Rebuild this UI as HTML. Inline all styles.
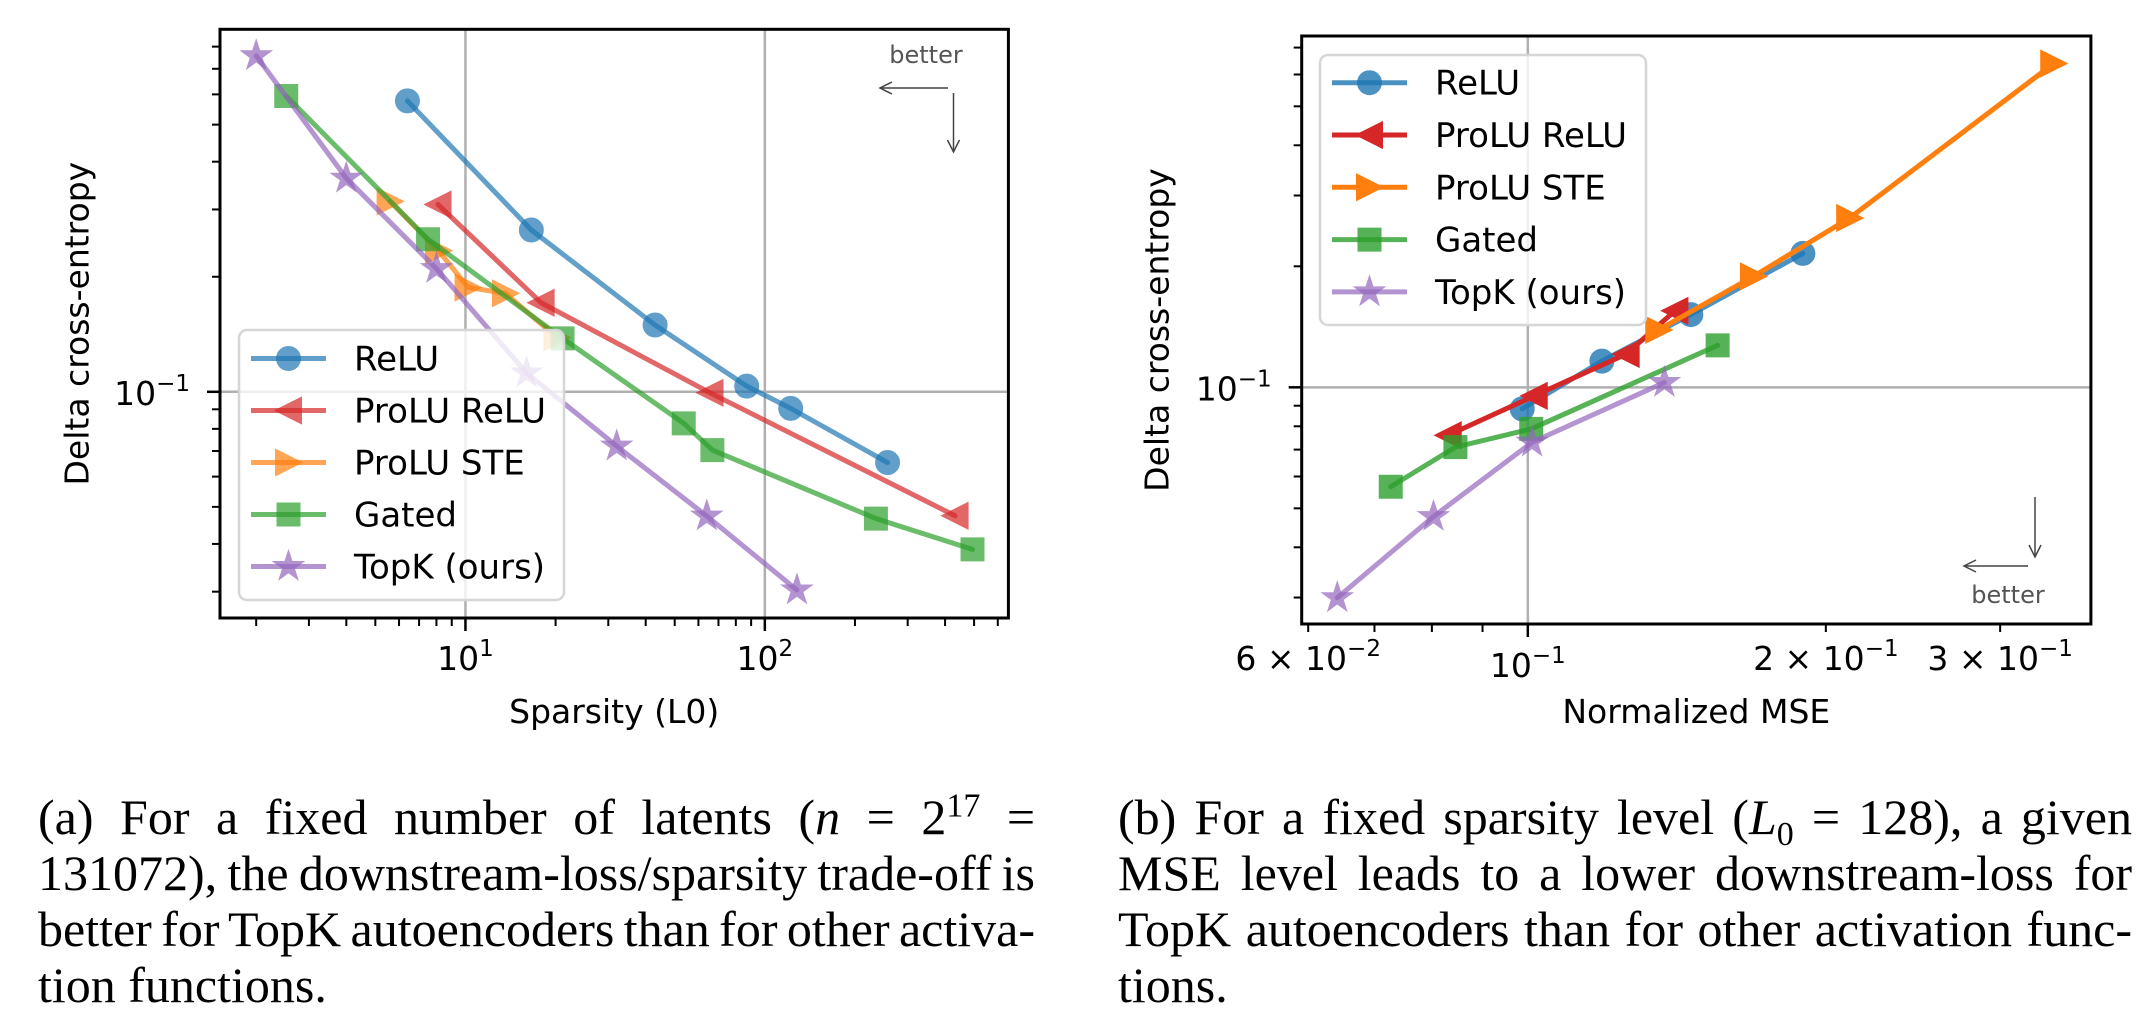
<!DOCTYPE html>
<html><head><meta charset="utf-8"><style>
html,body{margin:0;padding:0;background:#fff;}
svg{display:block;}
.cap{position:absolute;font-family:"Liberation Serif",serif;font-size:50px;line-height:56px;color:#000;}
.cap div{height:56px;white-space:nowrap;}
.cap span.ln{display:inline-block;white-space:nowrap;}
</style></head><body>
<div style="position:relative;width:2155px;height:1024px;overflow:hidden;">
<svg id="fig" width="2155" height="1024" viewBox="0 0 2155 1024" xmlns="http://www.w3.org/2000/svg" font-family="DejaVu Sans, Liberation Sans, sans-serif" style="position:absolute;left:0;top:0;">
<rect width="2155" height="1024" fill="#fff"/>
<g id="chartA"></g>
<g id="chartB"></g>
</svg>
<div class="cap" style="left:38px;top:789px;width:997px;">
<div><span class="ln j">(a) For a fixed number of latents (<i>n</i> = 2<sup style="font-size:34px;line-height:0;">17</sup> =</span></div>
<div><span class="ln j">131072), the downstream-loss/sparsity trade-off is</span></div>
<div><span class="ln j">better for TopK autoencoders than for other activa-</span></div>
<div><span class="ln">tion functions.</span></div>
</div>
<div class="cap" style="left:1118px;top:789px;width:1014px;">
<div><span class="ln j">(b) For a fixed sparsity level (<i>L</i><sub style="font-size:34px;line-height:0;">0</sub> = 128), a given</span></div>
<div><span class="ln j">MSE level leads to a lower downstream-loss for</span></div>
<div><span class="ln j">TopK autoencoders than for other activation func-</span></div>
<div><span class="ln">tions.</span></div>
</div>
</div>
<script>
// ---- Chart A data (Sparsity L0 vs Delta CE) ----
const seriesNames = ["ReLU", "ProLU ReLU", "ProLU STE", "Gated", "TopK (ours)"];
const aReluX = [6.4, 16.6, 43, 87, 122, 257];
const aReluY = [0.577, 0.265, 0.1495, 0.1035, 0.0905, 0.0653];
const aProluReluX = [8.1, 17.9, 65.6, 432];
const aProluReluY = [0.309, 0.171, 0.0994, 0.0474];
const aProluSteX = [5.6, 8.13, 10.2, 13.6, 20.2];
const aProluSteY = [0.315, 0.234, 0.1875, 0.181, 0.1387];
const aGatedX = [2.52, 7.5, 21.1, 53.6, 66.8, 235, 494];
const aGatedY = [0.594, 0.2506, 0.138, 0.0827, 0.0704, 0.0466, 0.0387];
const aTopkX = [2, 4, 8, 16, 32, 64, 128];
const aTopkY = [0.757, 0.362, 0.210, 0.112, 0.0721, 0.0473, 0.0303];
const aXMajorTicks = [10, 100];
const aXMajorLabels = [["10","1"], ["10","2"]];
const aXMinorTicks = [2,3,4,5,6,7,8,9,20,30,40,50,60,70,80,90,200,300,400,500,600];
const aYMajorTicks = [0.1];
const aYMinorTicks = [0.03,0.04,0.05,0.06,0.07,0.08,0.09,0.2,0.3,0.4,0.5,0.6,0.7,0.8];
// ---- Chart B data (Normalized MSE vs Delta CE) ----
const bReluX = [0.0987, 0.1188, 0.1461, 0.1896];
const bReluY = [0.0884, 0.1162, 0.1517, 0.2153];
const bProluReluX = [0.0831, 0.1015, 0.1257, 0.1408];
const bProluReluY = [0.076, 0.0952, 0.121, 0.155];
const bProluSteX = [0.1356, 0.169, 0.2114, 0.3398];
const bProluSteY = [0.139, 0.1888, 0.2637, 0.639];
const bGatedX = [0.0727, 0.0845, 0.1008, 0.1555];
const bGatedY = [0.0566, 0.071, 0.0788, 0.1272];
const bTopkX = [0.0642, 0.0803, 0.101, 0.1374];
const bTopkY = [0.02996, 0.0477, 0.073, 0.1028];
const bXMajorTicks = [0.1];
const bXMinorTicks = [0.06, 0.07, 0.08, 0.09, 0.2, 0.3];
const bXLabelTicks = [0.06, 0.1, 0.2, 0.3];
const bXLabels = [["6 × 10","−2"], ["10","−1"], ["2 × 10","−1"], ["3 × 10","−1"]];
const bYMajorTicks = [0.1];
const bYMinorTicks = [0.03,0.04,0.05,0.06,0.07,0.08,0.09,0.2,0.3,0.4,0.5,0.6,0.7];

const NS = "http://www.w3.org/2000/svg";
const COLORS = ["#1f77b4", "#d62728", "#ff7f0e", "#2ca02c", "#9467bd"];
const MARKERS = ["o", "<", ">", "s", "*"];

function mk(parent, tag, attrs) {
  const e = document.createElementNS(NS, tag);
  for (const k in attrs) e.setAttribute(k, attrs[k]);
  parent.appendChild(e);
  return e;
}
function logScale(vmin, vmax, p0, p1) {
  const a = Math.log10(vmin), b = Math.log10(vmax);
  return v => p0 + (Math.log10(v) - a) / (b - a) * (p1 - p0);
}
function markerPath(type, cx, cy) {
  if (type === "<") { const s = 12.5; return `M${cx-s},${cy} L${cx+s},${cy-s} L${cx+s},${cy+s} Z`; }
  if (type === ">") { const s = 12.5; return `M${cx+s},${cy} L${cx-s},${cy-s} L${cx-s},${cy+s} Z`; }
  if (type === "s") { const s = 11; return `M${cx-s},${cy-s} H${cx+s} V${cy+s} H${cx-s} Z`; }
  if (type === "*") {
    const R = 14.5, r = R * 0.382; let d = "";
    for (let i = 0; i < 10; i++) {
      const rad = i % 2 ? r : R; const ang = -Math.PI / 2 + i * Math.PI / 5;
      d += (i ? "L" : "M") + (cx + rad * Math.cos(ang)).toFixed(2) + "," + (cy + rad * Math.sin(ang)).toFixed(2);
    }
    return d + "Z";
  }
  return null;
}
function drawMarker(g, type, cx, cy, color, op) {
  let el;
  if (type === "o") el = mk(g, "circle", {cx: cx, cy: cy, r: 11.5});
  else el = mk(g, "path", {d: markerPath(type, cx, cy)});
  el.setAttribute("fill", color);
  el.setAttribute("stroke", color);
  el.setAttribute("stroke-width", "2");
  el.setAttribute("stroke-linejoin", "miter");
  el.setAttribute("opacity", op);
  return el;
}
function supText(g, x, y, base, sup, anchor) {
  const t = mk(g, "text", {x: x, y: y, "font-size": 33, fill: "#000", "text-anchor": anchor});
  const t1 = document.createElementNS(NS, "tspan"); t1.textContent = base; t.appendChild(t1);
  const t2 = document.createElementNS(NS, "tspan"); t2.setAttribute("font-size", "23"); t2.setAttribute("dy", "-14"); t2.textContent = sup; t.appendChild(t2);
  return t;
}

function buildChart(cfg) {
  const g = cfg.g;
  const X = logScale(cfg.xmin, cfg.xmax, cfg.x0, cfg.x1);
  const Y = logScale(cfg.ymin, cfg.ymax, cfg.y1, cfg.y0);
  const clipId = cfg.id + "-clip";
  const defs = mk(g, "defs", {});
  const cp = mk(defs, "clipPath", {id: clipId});
  mk(cp, "rect", {x: cfg.x0, y: cfg.y0, width: cfg.x1 - cfg.x0, height: cfg.y1 - cfg.y0});
  const grid = mk(g, "g", {stroke: "#b0b0b0", "stroke-width": 2.5});
  
  
  cfg.xMajor.forEach(v => mk(grid, "line", {x1: X(v), x2: X(v), y1: cfg.y0, y2: cfg.y1}));
  cfg.yMajor.forEach(v => mk(grid, "line", {x1: cfg.x0, x2: cfg.x1, y1: Y(v), y2: Y(v)}));
  const plot = mk(g, "g", {"clip-path": `url(#${clipId})`});
  
  
  cfg.series.forEach((s, i) => {
    const sg = mk(plot, "g", {});
    
    
    const pts = s.x.map((v, j) => X(v).toFixed(2) + "," + Y(s.y[j]).toFixed(2)).join(" ");
    const pl = mk(sg, "polyline", {points: pts, fill: "none", stroke: COLORS[i], "stroke-width": 5, "stroke-linejoin": "round", "stroke-linecap": "round", opacity: cfg.alpha[i]});
    
    
    s.x.forEach((v, j) => {
      const m = drawMarker(sg, MARKERS[i], X(v), Y(s.y[j]), COLORS[i], cfg.alpha[i]);
      
      
    });
  });
  const sp = mk(g, "rect", {x: cfg.x0, y: cfg.y0, width: cfg.x1 - cfg.x0, height: cfg.y1 - cfg.y0, fill: "none", stroke: "#000", "stroke-width": 3});
  
  
  const tk = mk(g, "g", {stroke: "#000"});
  
  
  cfg.xMajor.forEach(v => mk(tk, "line", {x1: X(v), x2: X(v), y1: cfg.y1, y2: cfg.y1 + 13, "stroke-width": 2.5}));
  cfg.xMinor.forEach(v => { const x = X(v); if (x > cfg.x0 && x < cfg.x1) mk(tk, "line", {x1: x, x2: x, y1: cfg.y1, y2: cfg.y1 + 8, "stroke-width": 2}); });
  cfg.yMajor.forEach(v => mk(tk, "line", {x1: cfg.x0 - 13, x2: cfg.x0, y1: Y(v), y2: Y(v), "stroke-width": 2.5}));
  cfg.yMinor.forEach(v => { const y = Y(v); if (y > cfg.y0 && y < cfg.y1) mk(tk, "line", {x1: cfg.x0 - 8, x2: cfg.x0, y1: y, y2: y, "stroke-width": 2}); });
  const xl = mk(g, "g", {});
  
  
  cfg.xLabelTicks.forEach((v, i) => {
    const lab = cfg.xLabels[i];
    supText(xl, X(v), cfg.xLabelY[i], lab[0], lab[1], "middle");
  });
  const yl = mk(g, "g", {});
  
  
  cfg.yMajor.forEach(v => supText(yl, cfg.x0 - 30, Y(v) + 13, "10", "−1", "end"));
  const xt = mk(g, "text", {x: (cfg.x0 + cfg.x1) / 2, y: 723, "font-size": 33, "text-anchor": "middle", fill: "#000"});
  xt.textContent = cfg.xTitle;
  
  
  const cy = (cfg.y0 + cfg.y1) / 2;
  const yt = mk(g, "text", {x: cfg.yTitleX, y: cy, "font-size": 33, "text-anchor": "middle", fill: "#000", transform: `rotate(-90 ${cfg.yTitleX} ${cy})`, "dominant-baseline": "central"});
  yt.textContent = "Delta cross-entropy";
  
  
  const L = cfg.legend;
  const lg = mk(g, "g", {});
  
  
  mk(lg, "rect", {x: L.x, y: L.y, width: L.w, height: L.h, rx: 8, fill: "#fff", "fill-opacity": 0.8, stroke: "#d6d6d6", "stroke-width": 2.5});
  seriesNames.forEach((name, i) => {
    const yy = L.y + L.first + i * L.step;
    const eg = mk(lg, "g", {});
    
    
    mk(eg, "line", {x1: L.x + 12, x2: L.x + 87, y1: yy, y2: yy, stroke: COLORS[i], "stroke-width": 5, opacity: cfg.alpha[i]});
    drawMarker(eg, MARKERS[i], L.x + 49.5, yy, COLORS[i], cfg.alpha[i]);
    const t = mk(eg, "text", {x: L.x + 115, y: yy + 12, "font-size": 34, fill: "#000"});
    t.textContent = name;
  });
  const B = cfg.better;
  const bg = mk(g, "g", {stroke: "#444", "stroke-width": 1.5, fill: "none"});
  
  
  mk(bg, "line", {x1: B.hx1, x2: B.hx2, y1: B.hy, y2: B.hy});
  mk(bg, "path", {d: `M${B.hx2 + 12},${B.hy - 6} L${B.hx2},${B.hy} L${B.hx2 + 12},${B.hy + 6}`});
  mk(bg, "line", {x1: B.vx, x2: B.vx, y1: B.vy1, y2: B.vy2});
  mk(bg, "path", {d: `M${B.vx - 6},${B.vy2 - 12} L${B.vx},${B.vy2} L${B.vx + 6},${B.vy2 - 12}`});
  const bt = mk(g, "text", {x: B.tx, y: B.ty, "font-size": 24, fill: "#555", "text-anchor": "middle"});
  bt.textContent = "better";
}

buildChart({
  id: "a", g: document.getElementById("chartA"),
  x0: 220, x1: 1008.4, y0: 29.3, y1: 618,
  xmin: 1.514, xmax: 651, ymin: 0.0256, ymax: 0.888,
  series: [{x: aReluX, y: aReluY}, {x: aProluReluX, y: aProluReluY}, {x: aProluSteX, y: aProluSteY}, {x: aGatedX, y: aGatedY}, {x: aTopkX, y: aTopkY}],
  alpha: [0.7, 0.7, 0.7, 0.7, 0.7],
  xMajor: aXMajorTicks, xMinor: aXMinorTicks, yMajor: aYMajorTicks, yMinor: aYMinorTicks,
  xLabelTicks: aXMajorTicks, xLabels: aXMajorLabels, xLabelY: [670, 670],
  xTitle: "Sparsity (L0)", yTitleX: 77,
  legend: {x: 239, y: 330, w: 325, h: 270, first: 28.5, step: 52},
  better: {hx1: 948, hx2: 880, hy: 88, vx: 953.5, vy1: 93, vy2: 152, tx: 926, ty: 63}
});
buildChart({
  id: "b", g: document.getElementById("chartB"),
  x0: 1301.7, x1: 2090.9, y0: 36, y1: 624,
  xmin: 0.0591, xmax: 0.3705, ymin: 0.02578, ymax: 0.748,
  series: [{x: bReluX, y: bReluY}, {x: bProluReluX, y: bProluReluY}, {x: bProluSteX, y: bProluSteY}, {x: bGatedX, y: bGatedY}, {x: bTopkX, y: bTopkY}],
  alpha: [0.8, 1, 1, 0.8, 0.7],
  xMajor: bXMajorTicks, xMinor: bXMinorTicks, yMajor: bYMajorTicks, yMinor: bYMinorTicks,
  xLabelTicks: bXLabelTicks, xLabels: bXLabels, xLabelY: [670, 677, 670, 670],
  xTitle: "Normalized MSE", yTitleX: 1157,
  legend: {x: 1320, y: 55, w: 326, h: 270, first: 27.7, step: 52.3},
  better: {hx1: 2028, hx2: 1964, hy: 566, vx: 2035, vy1: 497, vy2: 557, tx: 2008, ty: 603}
});

// justify caption lines by adjusting word spacing
document.querySelectorAll(".cap").forEach(cap => {
  const target = parseFloat(cap.style.width);
  cap.querySelectorAll("span.ln.j").forEach(sp => {
    const w = sp.getBoundingClientRect().width;
    const spaces = (sp.textContent.match(/ /g) || []).length;
    if (spaces > 0) sp.style.wordSpacing = ((target - w) / spaces).toFixed(2) + "px";
  });
});
</script>
</body></html>
